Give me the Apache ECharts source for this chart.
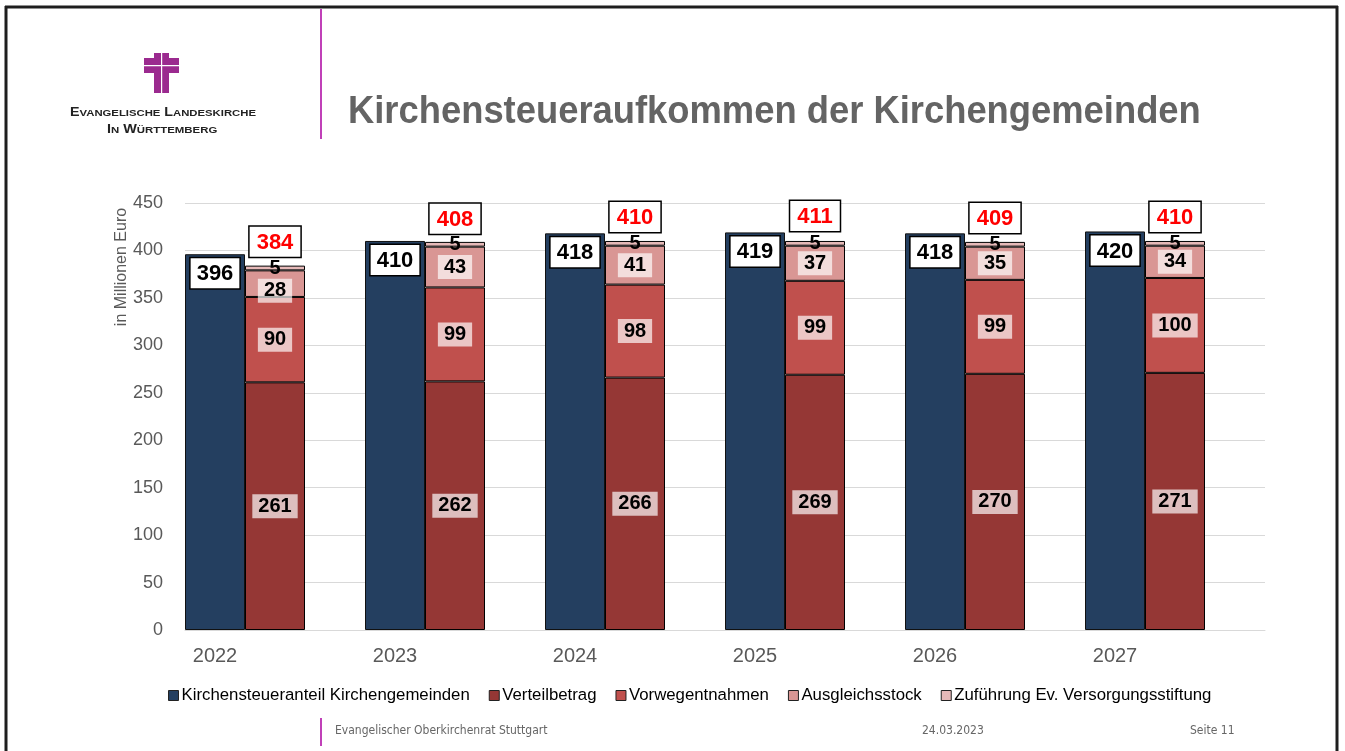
<!DOCTYPE html>
<html><head><meta charset="utf-8">
<script src="https://cdn.jsdelivr.net/npm/echarts@6/dist/echarts.min.js"></script>
<style>html,body{margin:0;padding:0;background:#fff}#c{width:1345px;height:751px}</style>
</head><body><div id="c"></div>
<script>
const years = ['2022','2023','2024','2025','2026','2027'];
const kirchensteueranteil = [396, 410, 418, 419, 418, 420];
const verteilbetrag = [261, 262, 266, 269, 270, 271];
const vorwegentnahmen = [90, 99, 98, 99, 99, 100];
const ausgleichsstock = [28, 43, 41, 37, 35, 34];
const zufuehrung = [5, 5, 5, 5, 5, 5];
const gesamt = [384, 408, 410, 411, 409, 410];
const yTicks = [0, 50, 100, 150, 200, 250, 300, 350, 400, 450];

const chart = echarts.init(document.getElementById('c'), null, {renderer:'canvas'});
const F = 'Liberation Sans, Arial, sans-serif';
const NARROW = 'Liberation Sans Narrow, DejaVu Sans Condensed, sans-serif';
const segLabel = {
  show: true, position: 'inside', color: '#000', fontFamily: F, fontWeight: 'bold', fontSize: 20,
  backgroundColor: 'rgba(255,255,255,0.68)', padding: [3, 6, 1, 6]
};
function stackSeries(name, data, color) {
  return {
    name, type: 'bar', stack: 'red', data, barWidth: 60,
    itemStyle: { color, borderColor: '#000', borderWidth: 1 },
    label: segLabel
  };
}
const magenta = '#9b2a8f';
const logoRich = {
  b: { fontSize: 12, fontWeight: 'bold', fill: '#222', fontFamily: F },
  s: { fontSize: 9.5, fontWeight: 'bold', fill: '#222', fontFamily: F }
};
chart.setOption({
  animation: false,
  textStyle: { fontFamily: F },
  grid: { left: 185, right: 80, top: 203, bottom: 121, containLabel: false },
  legend: {
    data: ['Kirchensteueranteil Kirchengemeinden','Verteilbetrag','Vorwegentnahmen','Ausgleichsstock','Zuführung Ev. Versorgungsstiftung'],
    left: 163, top: 682, itemWidth: 10, itemHeight: 10, itemGap: 19,
    icon: 'rect',
    textStyle: { fontSize: 16.8, color: '#000', fontFamily: F, padding: [0, 0, 0, -2] },
    itemStyle: { borderColor: '#222', borderWidth: 1 }
  },
  xAxis: {
    type: 'category', data: years,
    axisLine: { lineStyle: { color: '#d9d9d9', width: 1 } },
    axisTick: { show: false },
    axisLabel: { fontSize: 20, color: '#595959', margin: 16, padding: [0, 120, 0, 0], fontFamily: F }
  },
  yAxis: {
    type: 'value', min: yTicks[0], max: yTicks[yTicks.length - 1], interval: 50,
    splitLine: { lineStyle: { color: '#d9d9d9', width: 1 } },
    axisLine: { show: false }, axisTick: { show: false },
    axisLabel: { fontSize: 18, color: '#595959', margin: 22, fontFamily: F }
  },
  series: [
    {
      name: 'Kirchensteueranteil Kirchengemeinden', type: 'bar', data: kirchensteueranteil,
      barWidth: 60, barGap: '0%',
      itemStyle: { color: '#243f60', borderColor: '#111', borderWidth: 1 },
      label: { show: true, position: 'insideTop', distance: 4, color: '#000', fontWeight: 'bold', fontSize: 22,
        backgroundColor: '#fff', borderColor: '#000', borderWidth: 1.5, padding: [5, 6, 3, 6], fontFamily: F }
    },
    stackSeries('Verteilbetrag', verteilbetrag, '#953735'),
    stackSeries('Vorwegentnahmen', vorwegentnahmen, '#c0504d'),
    Object.assign(stackSeries('Ausgleichsstock', ausgleichsstock, '#d99694'),
      { labelLayout: function (p) { return p.dataIndex === 0 ? { dy: 7 } : {}; } }),
    Object.assign(stackSeries('Zuführung Ev. Versorgungsstiftung', zufuehrung, '#e6b9b8'),
      { label: Object.assign({}, segLabel, { backgroundColor: 'transparent', padding: 0 }) }),
    { name: 'spacer', type: 'bar', barWidth: 60, data: years.map(() => '-') },
    {
      name: 'Gesamt', type: 'scatter', data: gesamt, symbolSize: 0,
      itemStyle: { color: '#ffffff', opacity: 1 },
      label: { show: true, position: 'top', distance: 9, color: '#ff0000', fontWeight: 'bold', fontSize: 22,
        backgroundColor: '#fff', borderColor: '#000', borderWidth: 1.5, padding: [5, 7, 3, 7], fontFamily: F },
      emphasis: { disabled: true },
      z: 10
    }
  ],
  graphic: [
    { type: 'line', shape: { x1: 5, y1: 7, x2: 1338, y2: 7 }, style: { stroke: '#1e1e1e', lineWidth: 3 } },
    { type: 'line', shape: { x1: 6, y1: 6, x2: 6, y2: 751 }, style: { stroke: '#1e1e1e', lineWidth: 3 } },
    { type: 'line', shape: { x1: 1337, y1: 6, x2: 1337, y2: 751 }, style: { stroke: '#1e1e1e', lineWidth: 3 } },
    { type: 'line', shape: { x1: 321, y1: 9, x2: 321, y2: 139 }, style: { stroke: '#c040b8', lineWidth: 2 } },
    { type: 'line', shape: { x1: 321, y1: 718, x2: 321, y2: 746 }, style: { stroke: '#c040b8', lineWidth: 2 } },
    { type: 'rect', shape: { x: 154, y: 53, width: 15, height: 40 }, style: { fill: magenta } },
    { type: 'rect', shape: { x: 144, y: 58, width: 35, height: 15 }, style: { fill: magenta } },
    { type: 'rect', shape: { x: 161, y: 53, width: 1.2, height: 40 }, style: { fill: '#fff' } },
    { type: 'rect', shape: { x: 144, y: 65, width: 35, height: 1.2 }, style: { fill: '#fff' } },
    { type: 'text', x: 70, y: 113, scaleX: 1.19,
      style: { text: '{b|E}{s|VANGELISCHE} {b|L}{s|ANDESKIRCHE}', rich: logoRich, verticalAlign: 'middle', align: 'left' } },
    { type: 'text', x: 107, y: 130, scaleX: 1.2,
      style: { text: '{b|I}{s|N} {b|W}{s|ÜRTTEMBERG}', rich: logoRich, verticalAlign: 'middle', align: 'left' } },
    { type: 'text', x: 348, y: 113, scaleX: 0.957,
      style: { text: 'Kirchensteueraufkommen der Kirchengemeinden', fontSize: 38, fontWeight: 'bold', fill: '#646464',
        fontFamily: F, verticalAlign: 'middle', align: 'left' } },
    { type: 'text', x: 122, y: 267, rotation: Math.PI / 2,
      style: { text: 'in Millionen Euro', fontSize: 16, fill: '#595959', fontFamily: F, align: 'center', verticalAlign: 'middle' } },
    { type: 'text', left: 335, top: 725,
      style: { text: 'Evangelischer Oberkirchenrat Stuttgart', fontSize: 12, fill: '#666', fontFamily: NARROW } },
    { type: 'text', left: 922, top: 725,
      style: { text: '24.03.2023', fontSize: 12, fill: '#666', fontFamily: NARROW } },
    { type: 'text', left: 1190, top: 725,
      style: { text: 'Seite 11', fontSize: 12, fill: '#666', fontFamily: NARROW } }
  ]
});
</script></body></html>
